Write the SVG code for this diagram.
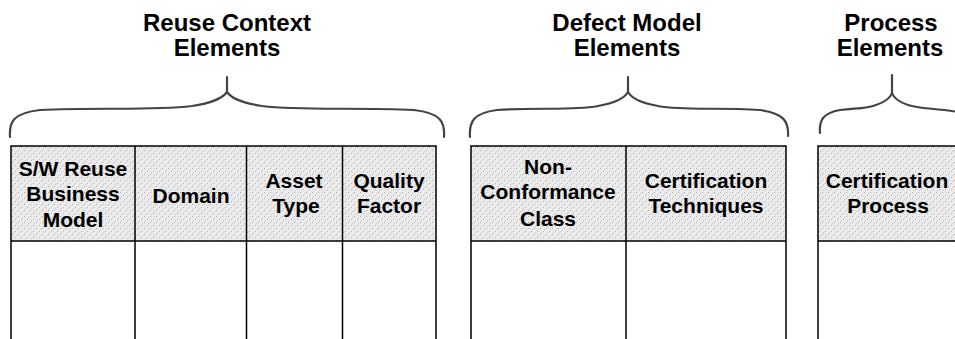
<svg xmlns="http://www.w3.org/2000/svg" width="955" height="339" viewBox="0 0 955 339">
  <style>
    .title { font-family: "Liberation Sans", Arial, sans-serif; font-weight: bold; font-size: 24px; fill: #000; text-anchor: middle; }
    .cell { font-family: "Liberation Sans", Arial, sans-serif; font-weight: bold; font-size: 21px; fill: #000; text-anchor: middle; }
    .hdr { fill: url(#stipple); stroke: none; }
    .grid { stroke: #000; stroke-width: 1.5; fill: none; }
    .brace { stroke: #444; stroke-width: 2.2; fill: none; stroke-linecap: round; stroke-linejoin: round; }
  </style>
  <defs>
    <pattern id="stipple" width="6" height="6" patternUnits="userSpaceOnUse">
      <rect width="6" height="6" fill="#ebebeb"/>
      <rect x="0" y="0" width="1" height="1" fill="#a8a8a8"/>
      <rect x="3" y="3" width="1" height="1" fill="#b4b4b4"/>
      <rect x="4" y="1" width="1" height="1" fill="#c8c8c8"/>
      <rect x="1" y="4" width="1" height="1" fill="#c8c8c8"/>
    </pattern>
  </defs>
  <rect width="955" height="339" fill="#fff"/>

  <g id="titles">
    <g id="title-reuse">
      <text class="title" x="227" y="31">Reuse Context</text>
      <text class="title" x="227" y="56">Elements</text>
    </g>
    <g id="title-defect">
      <text class="title" x="627" y="31">Defect Model</text>
      <text class="title" x="627" y="56">Elements</text>
    </g>
    <g id="title-process">
      <text class="title" x="891" y="31">Process</text>
      <text class="title" x="890" y="56">Elements</text>
    </g>
  </g>

  <g id="connectors">
    <path id="brace-reuse" class="brace" d="M 10 137 C 9 122 13 113 40 110 C 100 107 150 111 192 106 C 212 103 222 99 227 92 M 227 77 L 227 92 C 232 99 242 103 262 106 C 304 111 354 107 414 110 C 441 113 445 122 444 137"/>
    <path id="brace-defect" class="brace" d="M 470 137 C 469 122 473 113 497 110 C 540 107 570 111 598 106 C 615 103 624 99 628 92 M 628 77 L 628 92 C 632 99 641 103 658 106 C 686 111 716 107 760 110 C 784 113 789 122 788 136"/>
    <path id="brace-process" class="brace" d="M 820 133 C 819 120 823 113 840 110 C 856 108 866 109 876 105 C 885 102 890 99 892 93 M 892 75 L 892 93 C 894 99 899 102 908 105 C 920 109 935 108 958 112"/>
  </g>

  <g id="table-reuse">
    <rect class="hdr" x="11" y="146" width="425" height="95"/>
    <path class="grid" d="M 11 339 L 11 146 L 436 146 L 436 339 M 11 241 L 436 241 M 135 146 L 135 339 M 246.5 146 L 246.5 339 M 342.5 146 L 342.5 339"/>
    <g id="cell-sw-reuse-business-model">
      <text class="cell" x="73" y="176">S/W Reuse</text>
      <text class="cell" x="73" y="201">Business</text>
      <text class="cell" x="73" y="227">Model</text>
    </g>
    <g id="cell-domain">
      <text class="cell" x="191" y="203">Domain</text>
    </g>
    <g id="cell-asset-type">
      <text class="cell" x="294" y="188">Asset</text>
      <text class="cell" x="296" y="213">Type</text>
    </g>
    <g id="cell-quality-factor">
      <text class="cell" x="389" y="188">Quality</text>
      <text class="cell" x="389" y="213">Factor</text>
    </g>
  </g>

  <g id="table-defect">
    <rect class="hdr" x="471" y="146" width="315" height="95"/>
    <path class="grid" d="M 471 339 L 471 146 L 786 146 L 786 339 M 471 241 L 786 241 M 626 146 L 626 339"/>
    <g id="cell-nonconformance-class">
      <text class="cell" x="548" y="174">Non-</text>
      <text class="cell" x="548" y="199">Conformance</text>
      <text class="cell" x="548" y="226">Class</text>
    </g>
    <g id="cell-certification-techniques">
      <text class="cell" x="706" y="188">Certification</text>
      <text class="cell" x="706" y="213">Techniques</text>
    </g>
  </g>

  <g id="table-process">
    <rect class="hdr" x="818" y="146" width="140" height="95"/>
    <path class="grid" d="M 818 339 L 818 146 L 958 146 M 818 241 L 958 241"/>
    <g id="cell-certification-process">
      <text class="cell" x="887" y="188">Certification</text>
      <text class="cell" x="888" y="213">Process</text>
    </g>
  </g>
</svg>
